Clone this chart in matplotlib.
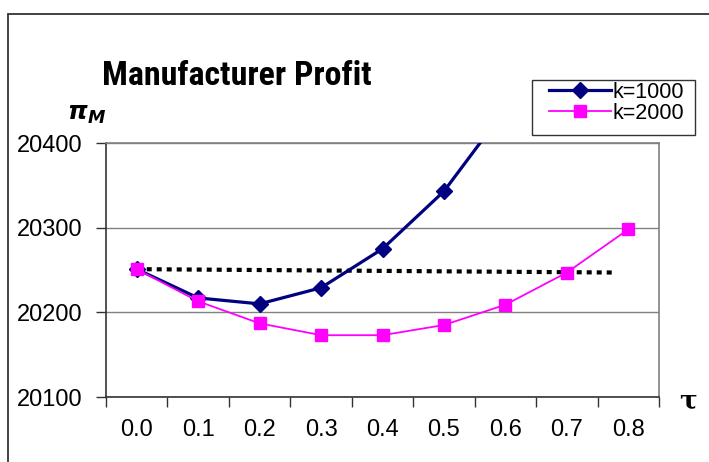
import matplotlib
matplotlib.use("Agg")
import matplotlib.pyplot as plt
from matplotlib.patches import Rectangle
from matplotlib.font_manager import findfont, FontProperties

tau_labels = ["0.0", "0.1", "0.2", "0.3", "0.4", "0.5", "0.6", "0.7", "0.8"]
k1000 = [20251, 20217, 20210, 20229, 20275, 20343, 20440, 20570, 20740]
k2000 = [20251, 20213, 20187, 20173, 20173, 20185, 20209, 20247, 20298]
dotted_tau = [0.0, 0.78]
dotted_val = [20251, 20247]
yticks = [20100, 20200, 20300, 20400]

base_font = "Liberation Sans"
plt.rcParams["font.family"] = [base_font, "DejaVu Sans"]


def pick_condensed():
    cands = [("Liberation Sans Narrow", "normal"), ("Roboto Condensed", "normal"),
             ("DejaVu Sans", "condensed"), ("Noto Sans", "condensed"),
             ("Open Sans", "condensed"), ("Noto Sans", "semi-condensed")]
    for fam, st in cands:
        fp = FontProperties(family=fam, weight="bold", stretch=st)
        try:
            path = findfont(fp, fallback_to_default=False)
        except Exception:
            continue
        p = path.lower()
        if "condensed" in p or "narrow" in p:
            return fp, 24.5
    return FontProperties(family=base_font, weight="bold"), 21


title_fp, title_size = pick_condensed()
title_fp.set_size(title_size)

fig = plt.figure(figsize=(7.09, 4.62), dpi=100)
ax = fig.add_axes([106/709, 1-397/462, (659-106)/709, (397-143)/462])

x = list(range(len(tau_labels)))
ax.plot(x, k1000, color="#000080", lw=2.3, marker="D", ms=8.5, label="k=1000", zorder=4)
ax.plot(x, k2000, color="#FF00FF", lw=1.3, marker="s", ms=8, label="k=2000", zorder=5)
dx = [t * 10 for t in dotted_tau]
ax.plot(dx, dotted_val, color="black", lw=3, linestyle=(0, (1.2, 1.2)),
        dash_capstyle="butt", zorder=3)

ax.set_xlim(-0.5, len(tau_labels) - 0.5)
ax.set_ylim(yticks[0], yticks[-1])
ax.set_yticks(yticks)
ax.set_yticklabels([str(v) for v in yticks], fontsize=17)
ax.set_xticks([i - 0.5 for i in range(len(tau_labels) + 1)])
ax.set_xticklabels([])
ax.set_xticks(x, minor=True)
ax.set_xticklabels(tau_labels, minor=True, fontsize=17)
ax.tick_params(axis="x", which="major", length=7, width=1, color="#333333", direction="out")
ax.tick_params(axis="x", which="minor", length=0, pad=16)
ax.tick_params(axis="y", length=7, width=1, color="#333333", direction="out", pad=10)
ax.yaxis.grid(True, color="#808080", lw=1)
ax.set_axisbelow(True)
for s in ["top", "right"]:
    ax.spines[s].set_color("#808080")
    ax.spines[s].set_linewidth(1.2)
for s in ["left", "bottom"]:
    ax.spines[s].set_color("#333333")
    ax.spines[s].set_linewidth(1.2)

leg = ax.legend(loc="center left", bbox_to_anchor=(549/709, 1-103/462),
                bbox_transform=fig.transFigure, fontsize=15.5, frameon=False,
                borderpad=0, labelspacing=0.0, handlelength=2.9,
                handletextpad=0.05, borderaxespad=0)
fig.patches.append(Rectangle((532/709, 1-135/462), (695-532)/709, (135-80)/462,
                             transform=fig.transFigure, fill=False, edgecolor="#333333", lw=1))

fig.text(237/709, 1-76/462, "Manufacturer Profit", ha="center", va="center",
         fontproperties=title_fp)
fig.text(67/709, 1-114/462, r"$\mathbfit{\pi}_{\mathbfit{M}}$", fontsize=18, ha="left", va="center")
fig.text(688/709, 1-401/462, "τ", fontsize=19, ha="center", va="center", fontweight="bold",
         family=["DejaVu Serif"])

fig.patches.append(Rectangle((8/709, -0.1), 1.0, 1 - 14/462 + 0.1, transform=fig.transFigure,
                             fill=False, edgecolor="#333333", lw=1.3))

fig.savefig("out.png", dpi=100)
